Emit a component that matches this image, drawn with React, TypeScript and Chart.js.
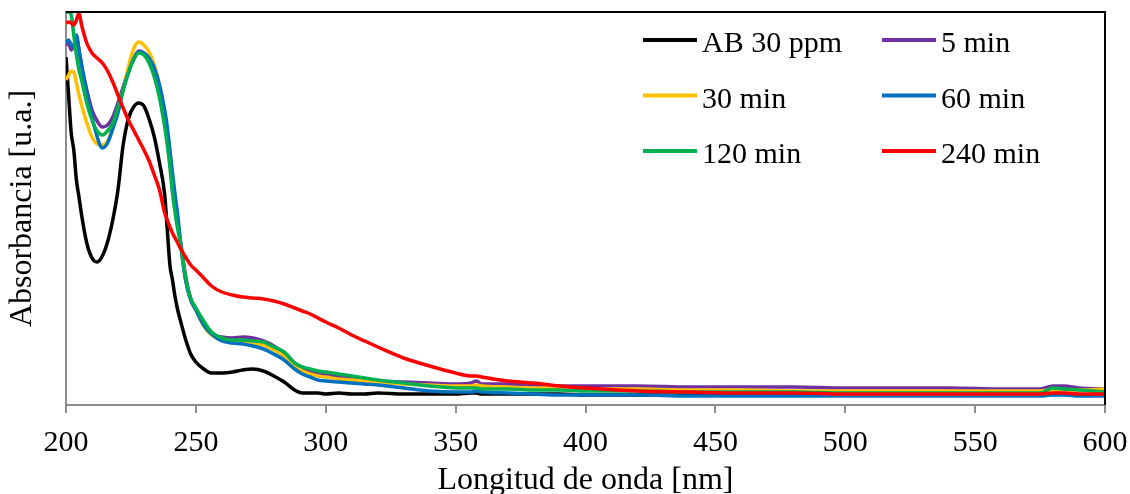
import React, { useEffect, useRef } from "react";
import { Chart, registerables } from "chart.js";

Chart.register(...registerables);

// Wavelength grid (nm)
const WAVELENGTHS = [
  200, 201, 202, 203, 204, 205, 206, 208, 210, 212, 214, 216, 218, 220, 222, 224, 226, 228, 230, 232,
  234, 236, 238, 239, 240, 241, 242, 243, 244, 246, 248, 250, 253, 256, 260, 264, 268, 272, 276, 280,
  284, 288, 291, 294, 297, 300, 305, 310, 315, 320, 330, 340, 350, 356, 358, 360, 370, 380, 390, 400,
  420, 440, 460, 480, 500, 520, 540, 560, 575, 580, 584, 590, 600,
];

const AB_30PPM = [
  3.48, 3.10, 2.72, 2.55, 2.25, 2.08, 1.90, 1.62, 1.47, 1.43, 1.49, 1.63, 1.85, 2.15, 2.60, 2.86, 2.98, 3.02, 2.99, 2.86,
  2.68, 2.42, 2.10, 1.75, 1.40, 1.25, 1.08, 0.95, 0.85, 0.66, 0.51, 0.43, 0.36, 0.32, 0.32, 0.33, 0.35, 0.36, 0.34, 0.29,
  0.23, 0.15, 0.12, 0.12, 0.12, 0.11, 0.12, 0.11, 0.11, 0.12, 0.11, 0.11, 0.11, 0.12, 0.12, 0.11, 0.11, 0.11, 0.11, 0.10,
  0.10, 0.10, 0.11, 0.10, 0.10, 0.10, 0.10, 0.10, 0.10, 0.11, 0.11, 0.10, 0.10,
];

const MIN_5 = [
  3.60, 3.62, 3.55, 3.60, 3.68, 3.55, 3.40, 3.15, 2.95, 2.84, 2.78, 2.80, 2.88, 3.02, 3.18, 3.34, 3.46, 3.54, 3.52, 3.45,
  3.32, 3.12, 2.85, 2.66, 2.45, 2.22, 2.00, 1.82, 1.65, 1.30, 1.06, 0.96, 0.80, 0.71, 0.68, 0.67, 0.68, 0.67, 0.64, 0.59,
  0.52, 0.42, 0.36, 0.33, 0.31, 0.30, 0.28, 0.26, 0.25, 0.24, 0.23, 0.22, 0.21, 0.22, 0.24, 0.21, 0.21, 0.20, 0.19, 0.19,
  0.19, 0.18, 0.18, 0.18, 0.17, 0.17, 0.17, 0.16, 0.16, 0.19, 0.19, 0.17, 0.16,
];

const MIN_30 = [
  3.25, 3.30, 3.34, 3.33, 3.22, 3.10, 3.00, 2.82, 2.68, 2.61, 2.60, 2.64, 2.78, 2.95, 3.15, 3.38, 3.56, 3.63, 3.60, 3.53,
  3.40, 3.20, 2.90, 2.72, 2.50, 2.28, 2.05, 1.85, 1.63, 1.27, 1.05, 0.95, 0.79, 0.70, 0.65, 0.64, 0.64, 0.62, 0.60, 0.55,
  0.49, 0.39, 0.34, 0.31, 0.29, 0.28, 0.26, 0.25, 0.24, 0.23, 0.21, 0.20, 0.19, 0.19, 0.20, 0.19, 0.18, 0.17, 0.17, 0.16,
  0.16, 0.15, 0.15, 0.14, 0.14, 0.14, 0.14, 0.14, 0.14, 0.15, 0.15, 0.15, 0.16,
];

const MIN_60 = [
  3.62, 3.65, 3.60, 3.58, 3.70, 3.55, 3.40, 3.12, 2.88, 2.68, 2.57, 2.62, 2.76, 2.92, 3.15, 3.32, 3.46, 3.53, 3.52, 3.47,
  3.37, 3.20, 2.95, 2.78, 2.55, 2.32, 2.10, 1.90, 1.65, 1.25, 1.05, 0.95, 0.80, 0.71, 0.64, 0.62, 0.61, 0.59, 0.56, 0.51,
  0.45, 0.36, 0.31, 0.28, 0.25, 0.24, 0.23, 0.22, 0.21, 0.20, 0.17, 0.14, 0.13, 0.13, 0.14, 0.13, 0.12, 0.11, 0.10, 0.10,
  0.10, 0.09, 0.09, 0.09, 0.09, 0.09, 0.09, 0.09, 0.09, 0.10, 0.10, 0.09, 0.09,
];

const MIN_120 = [
  3.93, 3.93, 3.90, 3.70, 3.50, 3.35, 3.25, 3.02, 2.85, 2.74, 2.70, 2.74, 2.82, 2.98, 3.15, 3.32, 3.45, 3.52, 3.50, 3.42,
  3.28, 3.07, 2.78, 2.60, 2.38, 2.12, 1.92, 1.76, 1.62, 1.28, 1.07, 0.97, 0.84, 0.73, 0.67, 0.65, 0.65, 0.64, 0.63, 0.58,
  0.53, 0.42, 0.38, 0.36, 0.34, 0.33, 0.31, 0.29, 0.27, 0.25, 0.22, 0.19, 0.17, 0.17, 0.17, 0.16, 0.16, 0.15, 0.15, 0.14,
  0.14, 0.13, 0.13, 0.13, 0.12, 0.12, 0.12, 0.12, 0.12, 0.17, 0.16, 0.15, 0.13,
];

const MIN_240 = [
  3.82, 3.83, 3.82, 3.80, 3.85, 3.92, 3.80, 3.62, 3.52, 3.47, 3.42, 3.34, 3.23, 3.10, 2.97, 2.85, 2.75, 2.65, 2.55, 2.44,
  2.30, 2.15, 1.92, 1.85, 1.78, 1.72, 1.67, 1.62, 1.57, 1.48, 1.40, 1.35, 1.27, 1.19, 1.13, 1.10, 1.08, 1.07, 1.06, 1.04,
  1.01, 0.97, 0.94, 0.91, 0.87, 0.83, 0.77, 0.70, 0.64, 0.58, 0.47, 0.39, 0.32, 0.29, 0.29, 0.28, 0.24, 0.22, 0.19, 0.17,
  0.14, 0.13, 0.12, 0.12, 0.11, 0.11, 0.11, 0.11, 0.11, 0.12, 0.12, 0.11, 0.11,
];

const SERIES_LABELS = ["AB 30 ppm", "5 min", "30 min", "60 min", "120 min", "240 min"];
const SERIES_VALUES = [AB_30PPM, MIN_5, MIN_30, MIN_60, MIN_120, MIN_240];
const SERIES_COLORS = ["#000000", "#7030A0", "#FFC000", "#0070C0", "#00B050", "#FF0000"];

const X_TICKS = [200, 250, 300, 350, 400, 450, 500, 550, 600];

const FONT = "'Liberation Serif', 'Times New Roman', Times, serif";

const gridLegend = {
  id: "gridLegend",
  afterDraw(chart: any, _args: any, opts: any) {
    const ctx = chart.ctx;
    ctx.save();
    ctx.font = `${opts.fontSize}px ${FONT}`;
    ctx.textBaseline = "alphabetic";
    ctx.textAlign = "left";
    chart.data.datasets.forEach((ds: any, i: number) => {
      const col = i % 2;
      const row = Math.floor(i / 2);
      const x0 = opts.colX[col];
      const base = opts.rowBase[row];
      ctx.strokeStyle = ds.borderColor;
      ctx.lineWidth = 4;
      ctx.lineCap = "butt";
      ctx.beginPath();
      ctx.moveTo(x0, base - opts.lineOffset);
      ctx.lineTo(x0 + opts.lineLen, base - opts.lineOffset);
      ctx.stroke();
      ctx.fillStyle = "#000000";
      ctx.fillText(ds.label, x0 + opts.lineLen + opts.gap, base);
    });
    ctx.restore();
  },
};

const frame = {
  id: "frame",
  afterDraw(chart: any) {
    const { ctx, chartArea } = chart;
    ctx.save();
    ctx.strokeStyle = "#000000";
    ctx.lineWidth = 2;
    ctx.beginPath();
    ctx.moveTo(chartArea.left, chartArea.top);
    ctx.lineTo(chartArea.right, chartArea.top);
    ctx.lineTo(chartArea.right, chartArea.bottom);
    ctx.stroke();
    ctx.restore();
  },
};

export default function App() {
  const ref = useRef<HTMLCanvasElement | null>(null);

  useEffect(() => {
    document.body.style.margin = "0";
    if (!ref.current) return;
    const datasets = SERIES_LABELS.map((label, i) => ({
      label,
      data: WAVELENGTHS.map((x, j) => ({ x, y: SERIES_VALUES[i][j] })),
      borderColor: SERIES_COLORS[i],
      backgroundColor: SERIES_COLORS[i],
      borderWidth: 3.5,
      pointRadius: 0,
      fill: false,
      cubicInterpolationMode: "monotone" as const,
      order: SERIES_LABELS.length - i,
    }));

    const chart = new Chart(ref.current, {
      type: "line",
      data: { datasets },
      plugins: [gridLegend, frame],
      options: {
        animation: false,
        responsive: false,
        devicePixelRatio: 1,
        layout: { padding: { left: 0, right: 25, top: 12, bottom: 0 } },
        plugins: {
          legend: { display: false },
          tooltip: { enabled: false },
          gridLegend: {
            fontSize: 30,
            colX: [643, 882],
            rowBase: [52, 107.5, 163],
            lineOffset: 12,
            lineLen: 54,
            gap: 5,
          },
        } as any,
        scales: {
          x: {
            type: "linear",
            min: 200,
            max: 600,
            afterFit: (s: any) => {
              s.height = 89;
              s.paddingLeft = 0;
              s.paddingRight = 0;
            },
            afterBuildTicks: (s: any) => {
              s.ticks = X_TICKS.map((v) => ({ value: v }));
            },
            ticks: {
              font: { family: FONT, size: 30 },
              color: "#000000",
              padding: 12,
              maxRotation: 0,
            },
            grid: {
              display: true,
              drawOnChartArea: false,
              drawTicks: true,
              tickLength: 8,
              color: "#8c8c8c",
              lineWidth: 2,
            },
            border: { display: true, color: "#8c8c8c", width: 2 },
            title: {
              display: true,
              text: "Longitud de onda [nm]",
              font: { family: FONT, size: 32, lineHeight: 1 },
              color: "#000000",
              padding: { top: 0, bottom: -3 },
            },
          },
          y: {
            type: "linear",
            min: 0,
            max: 3.93,
            afterFit: (s: any) => {
              s.width = 66;
            },
            ticks: { display: false },
            grid: { display: false },
            border: { display: true, color: "#8c8c8c", width: 2 },
            title: {
              display: true,
              text: "Absorbancia [u.a.]",
              font: { family: FONT, size: 32, lineHeight: 1 },
              color: "#000000",
              padding: { top: 7, bottom: 0 },
            },
          },
        },
      },
    });
    return () => chart.destroy();
  }, []);

  return <canvas ref={ref} width={1130} height={494} style={{ display: "block" }} />;
}
